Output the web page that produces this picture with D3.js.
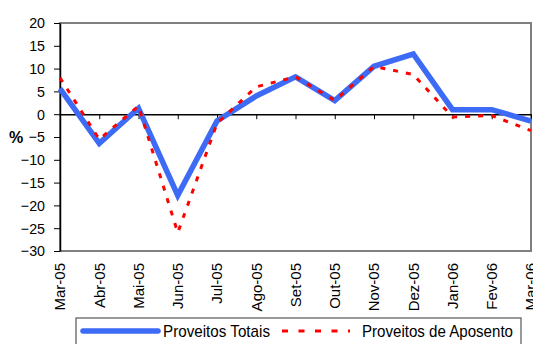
<!DOCTYPE html>
<html>
<head>
<meta charset="utf-8">
<script src="https://cdn.jsdelivr.net/npm/d3@7/dist/d3.min.js"></script>
<style>
  html, body { margin: 0; padding: 0; background: #fff; }
  svg { display: block; font-family: "Liberation Sans", Arial, sans-serif; }
</style>
</head>
<body>
<svg id="chart" width="533" height="344"></svg>
<script>
const months = ["Mar-05","Abr-05","Mai-05","Jun-05","Jul-05","Ago-05","Set-05","Out-05","Nov-05","Dez-05","Jan-06","Fev-06","Mar-06"];
const totais = [5.6, -6.4, 1.3, -17.8, -1.5, 4.0, 8.2, 3.0, 10.5, 13.2, 1.0, 1.0, -1.5];
const aposento = [8.0, -5.5, 1.8, -26.0, -2.0, 6.0, 8.2, 3.0, 10.5, 8.7, -0.6, -0.3, -3.6];
const yTicks = [20, 15, 10, 5, 0, -5, -10, -15, -20, -25, -30];
const seriesNames = ["Proveitos Totais", "Proveitos de Aposento"];

const svg = d3.select("#chart");
const L = 60, R = 531, T = 23, B = 251;

const x = d3.scalePoint().domain(months).range([L, R]);
const y = d3.scaleLinear().domain([-30, 20]).range([B, T]);

// plot border
svg.append("rect")
  .attr("x", L).attr("y", T).attr("width", R - L).attr("height", B - T)
  .attr("fill", "#fff").attr("stroke", "#808080").attr("stroke-width", 2);

// y axis
const yAxis = svg.append("g")
  .attr("transform", `translate(${L},0)`)
  .call(d3.axisLeft(y).tickValues(yTicks).tickSize(6).tickPadding(9).tickSizeOuter(0));
yAxis.select(".domain").attr("stroke", "#000").attr("stroke-width", 1.5);
yAxis.selectAll(".tick line").attr("stroke", "#000");
yAxis.selectAll("text").attr("font-size", 15).attr("fill", "#000")
  .attr("font-family", "'Liberation Sans', Arial, sans-serif")
  .attr("textLength", function() { return this.getComputedTextLength() * 0.95; })
  .attr("lengthAdjust", "spacingAndGlyphs");

// x axis at zero
const xAxis = svg.append("g")
  .attr("transform", `translate(0,${y(0)})`)
  .call(d3.axisBottom(x).tickSize(5).tickSizeOuter(0).tickFormat(""));
xAxis.select(".domain").attr("stroke", "#000").attr("stroke-width", 1.5);
xAxis.selectAll(".tick line").attr("stroke", "#000");

// x labels
svg.append("g").selectAll("text")
  .data(months).join("text")
  .attr("transform", d => `translate(${x(d)},${263}) rotate(-90)`)
  .attr("text-anchor", "end")
  .attr("dy", "0.35em")
  .attr("font-size", 15)
  .attr("fill", "#000")
  .text(d => d);

// % label
svg.append("text")
  .attr("x", 16).attr("y", 137)
  .attr("text-anchor", "middle").attr("dy", "0.35em")
  .attr("font-size", 16).attr("font-weight", "bold")
  .text("%");

const line = d3.line().x((d, i) => x(months[i])).y(d => y(d));

svg.append("path").datum(totais)
  .attr("d", line).attr("fill", "none")
  .attr("stroke", "#3d6bf5").attr("stroke-width", 5.5)
  .attr("stroke-linejoin", "miter");

svg.append("path").datum(aposento)
  .attr("d", line).attr("fill", "none")
  .attr("stroke", "#ff0000").attr("stroke-width", 3)
  .attr("stroke-dasharray", "5,8");

// legend
const lg = svg.append("g");
lg.append("rect").attr("x", 76).attr("y", 318).attr("width", 445).attr("height", 34)
  .attr("fill", "#fff").attr("stroke", "#555").attr("stroke-width", 1.2);
lg.append("line").attr("x1", 83).attr("x2", 158).attr("y1", 331).attr("y2", 331)
  .attr("stroke", "#3d6bf5").attr("stroke-width", 5.5).attr("stroke-linecap", "round");
lg.append("text").attr("x", 163).attr("y", 331).attr("dy", "0.35em")
  .attr("font-size", 17).attr("textLength", 107).attr("lengthAdjust", "spacingAndGlyphs")
  .text(seriesNames[0]);
lg.append("line").attr("x1", 282).attr("x2", 350).attr("y1", 331).attr("y2", 331)
  .attr("stroke", "#ff0000").attr("stroke-width", 3).attr("stroke-dasharray", "6,10.5");
lg.append("text").attr("x", 362).attr("y", 331).attr("dy", "0.35em")
  .attr("font-size", 17).attr("textLength", 151).attr("lengthAdjust", "spacingAndGlyphs")
  .text(seriesNames[1]);
</script>
</body>
</html>
